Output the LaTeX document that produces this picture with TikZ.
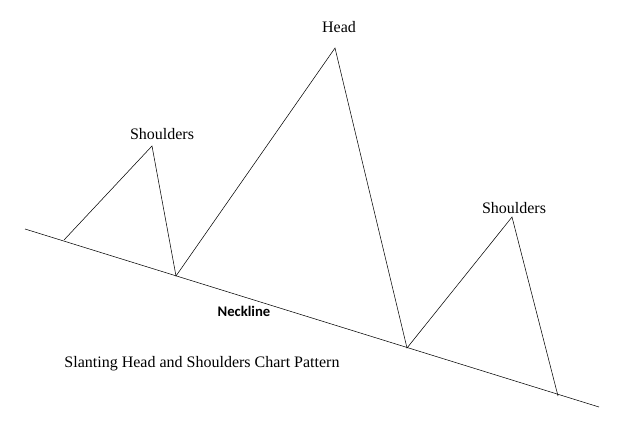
\documentclass[tikz,border=0pt]{standalone}
\usepackage{fontspec}
\setmainfont{Liberation Serif}
\newfontfamily\necklinefont{Carlito}
\usepackage{tikz}

\begin{document}
\begin{tikzpicture}[x=0.75pt,y=0.75pt,yscale=-1,xscale=1]
    \useasboundingbox (0,0) rectangle (642,442);

    % Points
    \coordinate (nl) at (25,229);
    \coordinate (nr) at (599,407);
    \coordinate (p0) at (64,240);
    \coordinate (ls) at (152,146);
    \coordinate (t1) at (176,276);
    \coordinate (hd) at (335,48);
    \coordinate (t2) at (407,348);
    \coordinate (rs) at (512,217);
    \coordinate (p6) at (558,396);

    %Straight Lines
    \draw    (nl) -- (nr) ;
    %Straight Lines
    \draw    (p0) -- (ls) -- (t1) -- (hd) -- (t2) -- (rs) -- (p6) ;

    % Text Node
    \draw (339,27) node [inner sep=0.75pt] (headlbl)   {\fontsize{12}{14}\selectfont Head};
    % Text Node
    \draw (162,134) node [inner sep=0.75pt] (lslbl)   {\fontsize{12}{14}\selectfont Shoulders};
    % Text Node
    \draw (514,208) node [inner sep=0.75pt] (rslbl)   {\fontsize{12}{14}\selectfont Shoulders};
    % Text Node
    \draw (244,311) node [inner sep=0.75pt] (necklbl)   {\necklinefont\bfseries\fontsize{11}{13}\selectfont Neckline};
    % Text Node
    \draw (202,364) node [inner sep=0.75pt] (title)   {\fontsize{12}{14}\selectfont Slanting Head and Shoulders Chart Pattern};
\end{tikzpicture}
\end{document}
